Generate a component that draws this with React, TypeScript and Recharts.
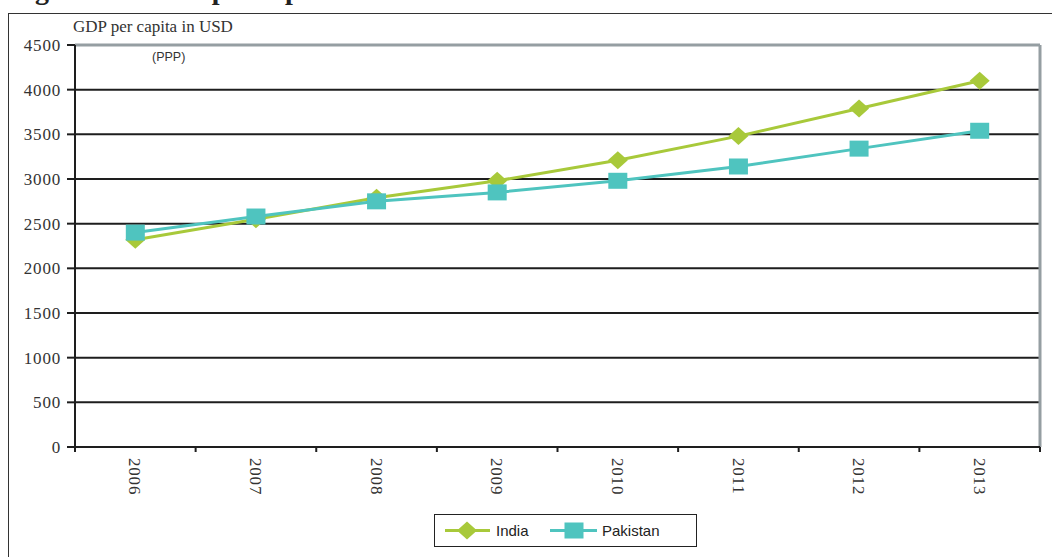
import React from "react";
import { CartesianGrid, Line, LineChart, ReferenceLine, XAxis, YAxis } from "recharts";

const years = ["2006", "2007", "2008", "2009", "2010", "2011", "2012", "2013"];
const india = [2320, 2550, 2790, 2980, 3210, 3480, 3790, 4100];
const pakistan = [2400, 2580, 2750, 2850, 2980, 3140, 3340, 3540];
const yTicks = [0, 500, 1000, 1500, 2000, 2500, 3000, 3500, 4000, 4500];

// each year sits in the middle of its band; band edges carry the tick marks
const rows = years.map((year, i) => ({ year, pos: i + 0.5, india: india[i], pakistan: pakistan[i] }));
const xTicks = Array.from({ length: years.length * 2 + 1 }, (_, k) => k / 2);

const GREEN = "#a8c93a";
const TEAL = "#4fc4bf";
const FRAME = "#959ea2";
const INK = "#1e1e1e";
const SERIF = '"Liberation Serif", "DejaVu Serif", serif';
const SANS = '"Liberation Sans", Arial, sans-serif';

function Diamond({ cx, cy }: any) {
  if (cx == null || cy == null) return null;
  return <polygon points={`${cx - 10},${cy} ${cx},${cy - 9} ${cx + 10},${cy} ${cx},${cy + 9}`} fill={GREEN} />;
}

function Square({ cx, cy }: any) {
  if (cx == null || cy == null) return null;
  return <rect x={cx - 9.5} y={cy - 8} width={19} height={16} fill={TEAL} />;
}

function YearTick({ x, y, payload }: any) {
  const v = payload.value;
  if (Number.isInteger(v)) {
    return <line x1={x} x2={x} y1={y} y2={y + 5} stroke={INK} strokeWidth={2} />;
  }
  const ty = y + 11;
  return (
    <text
      x={x}
      y={ty}
      transform={`rotate(90, ${x}, ${ty})`}
      textAnchor="start"
      dy="0.35em"
      fill="#333"
      fontFamily={SERIF}
      fontSize={17}
      letterSpacing={0.8}
    >
      {years[Math.floor(v)]}
    </text>
  );
}

function LegendBox() {
  return (
    <div
      style={{
        position: "absolute",
        left: 434,
        top: 514,
        width: 261,
        height: 31,
        border: "1.5px solid #222",
        background: "#fff",
      }}
    >
      <svg width={261} height={31} style={{ position: "absolute", left: 0, top: 0 }}>
        <line x1={10} x2={55} y1={15.5} y2={15.5} stroke={GREEN} strokeWidth={3} />
        <Diamond cx={32} cy={15.5} />
        <text x={61} y={21} fontFamily={SANS} fontSize={15} fill="#222">
          India
        </text>
        <line x1={115} x2={162} y1={15.5} y2={15.5} stroke={TEAL} strokeWidth={3} />
        <Square cx={139} cy={15.5} />
        <text x={167} y={21} fontFamily={SANS} fontSize={15} fill="#222">
          Pakistan
        </text>
      </svg>
    </div>
  );
}

export default function App() {
  return (
    <div
      style={{
        position: "fixed",
        left: 0,
        top: 0,
        width: 1052,
        height: 557,
        overflow: "hidden",
        background: "#fff",
      }}
    >
      {/* figure caption, running off the top edge */}
      <svg width={1052} height={12} style={{ position: "absolute", left: 0, top: 0 }}>
        <text x={10} y={-1} fontFamily={SERIF} fontWeight="bold" fontSize={28} fill="#222">
          Figure 3.3: GDP per capita in India and Pakistan
        </text>
      </svg>
      {/* outer frame */}
      <div
        style={{
          position: "absolute",
          left: 8,
          top: 13,
          width: 2000,
          height: 2000,
          borderLeft: "1.5px solid #333",
          borderTop: "1.5px solid #333",
        }}
      />
      <div style={{ position: "absolute", left: 0, top: 0 }}>
        <LineChart width={1052} height={557} data={rows} margin={{ top: 45, right: 12, bottom: 0, left: 0 }}>
          <CartesianGrid vertical={false} stroke={INK} strokeWidth={2} />
          <XAxis
            dataKey="pos"
            type="number"
            domain={[0, years.length]}
            ticks={xTicks}
            interval={0}
            height={110}
            axisLine={{ stroke: INK, strokeWidth: 2 }}
            tickLine={false}
            tickSize={0}
            tickMargin={0}
            tick={<YearTick />}
          />
          <YAxis
            domain={[0, 4500]}
            ticks={yTicks}
            width={75}
            interval={0}
            axisLine={{ stroke: INK, strokeWidth: 2 }}
            tickLine={{ stroke: INK, strokeWidth: 2 }}
            tickSize={8}
            tickMargin={6}
            tick={{ fill: "#333", fontFamily: SERIF, fontSize: 17, letterSpacing: 0.8 }}
          />
          {/* grey plot-area frame on the top and right */}
          <ReferenceLine y={4500} stroke={FRAME} strokeWidth={3} />
          <ReferenceLine x={years.length} stroke={FRAME} strokeWidth={3} />
          <Line
            dataKey="india"
            stroke={GREEN}
            strokeWidth={3}
            dot={<Diamond />}
            activeDot={false}
            isAnimationActive={false}
          />
          <Line
            dataKey="pakistan"
            stroke={TEAL}
            strokeWidth={3}
            dot={<Square />}
            activeDot={false}
            isAnimationActive={false}
          />
        </LineChart>
      </div>
      {/* axis caption */}
      <div
        style={{
          position: "absolute",
          left: 73,
          top: 17,
          fontFamily: SERIF,
          fontSize: 17,
          color: "#333",
          whiteSpace: "nowrap",
        }}
      >
        GDP per capita in USD
      </div>
      <div
        style={{
          position: "absolute",
          left: 152,
          top: 50,
          fontFamily: SANS,
          fontSize: 12.5,
          color: "#333",
          whiteSpace: "nowrap",
        }}
      >
        (PPP)
      </div>
      <LegendBox />
    </div>
  );
}
